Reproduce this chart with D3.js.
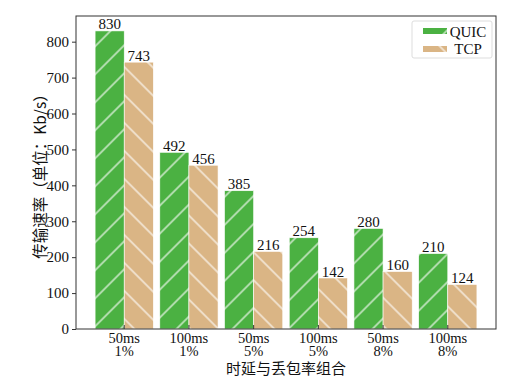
<!DOCTYPE html>
<html>
<head>
<meta charset="utf-8">
<script src="https://cdn.jsdelivr.net/npm/d3@7"></script>
<style>
body { margin: 0; background: #fff; }
svg text { font-family: "Liberation Serif", "Noto Sans CJK SC", serif; fill: #111; }
.cjk { font-family: "Noto Sans CJK SC", sans-serif; }
</style>
</head>
<body>
<svg id="chart" width="506" height="385"></svg>
<script>
// chart data
var delays = ["50ms", "100ms", "50ms", "100ms", "50ms", "100ms"];
var losses = ["1%", "1%", "5%", "5%", "8%", "8%"];
var quic = [830, 492, 385, 254, 280, 210];
var tcp = [743, 456, 216, 142, 160, 124];
var yTicks = [0, 100, 200, 300, 400, 500, 600, 700, 800];
var seriesNames = ["QUIC", "TCP"];

var svg = d3.select("#chart");
// plot box (don't call it "top", that's window.top)
var pLeft = 76, pRight = 496, pTop = 16, pBottom = 329;
var barW = 0.45;

var x = d3.scaleLinear().domain([-0.745, 5.745]).range([pLeft, pRight]);
var y = d3.scaleLinear().domain([0, 871.5]).range([pBottom, pTop]);

var green = "#4bb142", tan = "#dab585";

// hatch patterns, white lines like matplotlib '/' and '\'
var defs = svg.append("defs");
function hatch(id, color, angle) {
    var p = defs.append("pattern")
    .attr("id", id)
    .attr("patternUnits", "userSpaceOnUse")
    .attr("width", 19.8)
    .attr("height", 10)
    .attr("patternTransform", "rotate(" + angle + ")");
    p.append("rect").attr("width", 19.8).attr("height", 10).attr("fill", color);
    p.append("line")
    .attr("x1", 1).attr("y1", 0).attr("x2", 1).attr("y2", 10)
    .attr("stroke", "#fff").attr("stroke-width", 1.1);
}
hatch("hq", green, 45);
hatch("ht", tan, -45);

var idx = d3.range(quic.length);

// QUIC bars
svg.append("g").selectAll("rect")
.data(idx)
.enter()
.append("rect")
.attr("x", function(i) { return x(i - barW); })
.attr("y", function(i) { return y(quic[i]); })
.attr("width", function(i) { return x(i) - x(i - barW); })
.attr("height", function(i) { return y(0) - y(quic[i]); })
.style("fill", "url(#hq)")
.style("stroke", "#fff")
.style("stroke-width", 0.6);

// TCP bars
svg.append("g").selectAll("rect")
.data(idx)
.enter()
.append("rect")
.attr("x", function(i) { return x(i); })
.attr("y", function(i) { return y(tcp[i]); })
.attr("width", function(i) { return x(i + barW) - x(i); })
.attr("height", function(i) { return y(0) - y(tcp[i]); })
.style("fill", "url(#ht)")
.style("stroke", "#fff")
.style("stroke-width", 0.6);

// value labels
function valueLabels(vals, offset) {
    svg.append("g").selectAll("text")
    .data(idx)
    .enter()
    .append("text")
    .attr("x", function(i) { return x(i + offset); })
    .attr("y", function(i) { return y(vals[i]) - 1.5; })
    .attr("text-anchor", "middle")
    .style("font-size", "15px")
    .text(function(i) { return vals[i]; });
}
valueLabels(quic, -barW / 2);
valueLabels(tcp, barW / 2);

// frame
svg.append("rect")
.attr("x", pLeft).attr("y", pTop)
.attr("width", pRight - pLeft).attr("height", pBottom - pTop)
.style("fill", "none")
.style("stroke", "#333")
.style("stroke-width", 1);

// y axis
var yAxis = svg.append("g")
.attr("transform", "translate(" + pLeft + ",0)")
.call(d3.axisLeft(y).tickValues(yTicks).tickSize(4).tickPadding(3));
yAxis.select(".domain").remove();
yAxis.selectAll("line").attr("stroke", "#333");
yAxis.selectAll("text").style("font-size", "15px").attr("fill", "#111")
.style("font-family", "Liberation Serif");

// x axis ticks (pointing in) and two-line labels
var xg = svg.append("g");
xg.selectAll("line")
.data(idx)
.enter()
.append("line")
.attr("x1", function(i) { return x(i); })
.attr("x2", function(i) { return x(i); })
.attr("y1", pBottom).attr("y2", pBottom - 4)
.attr("stroke", "#333");
var xl = xg.selectAll("text")
.data(idx)
.enter()
.append("text")
.attr("text-anchor", "middle")
.style("font-size", "14.5px")
.attr("x", function(i) { return x(i); })
.attr("y", pBottom + 13.5);
xl.append("tspan").attr("x", function(i) { return x(i); }).text(function(i) { return delays[i]; });
xl.append("tspan").attr("x", function(i) { return x(i); }).attr("dy", 13).text(function(i) { return losses[i]; });

// axis titles
svg.append("text")
.attr("class", "cjk")
.attr("x", (pLeft + pRight) / 2)
.attr("y", 374)
.attr("text-anchor", "middle")
.style("font-size", "15px")
.text("时延与丢包率组合");

svg.append("text")
.attr("class", "cjk")
.attr("transform", "translate(46," + ((pTop + pBottom) / 2) + ") rotate(-90)")
.attr("text-anchor", "middle")
.style("font-size", "15.5px")
.text("传输速率（单位：Kb/s）");

// legend
var lg = svg.append("g");
lg.append("rect")
.attr("x", 412).attr("y", 21)
.attr("width", 80).attr("height", 37)
.attr("rx", 2)
.style("fill", "#fff")
.style("stroke", "#ddd")
.style("stroke-width", 1);
var fills = ["url(#hq)", "url(#ht)"];
seriesNames.forEach(function(name, k) {
    lg.append("rect")
    .attr("x", 423).attr("y", 28 + k * 18)
    .attr("width", 24).attr("height", 6)
    .style("fill", fills[k]);
    lg.append("text")
    .attr("x", 468).attr("y", 37 + k * 17)
    .attr("text-anchor", "middle")
    .style("font-size", "15px")
    .text(name);
});
</script>
</body>
</html>
